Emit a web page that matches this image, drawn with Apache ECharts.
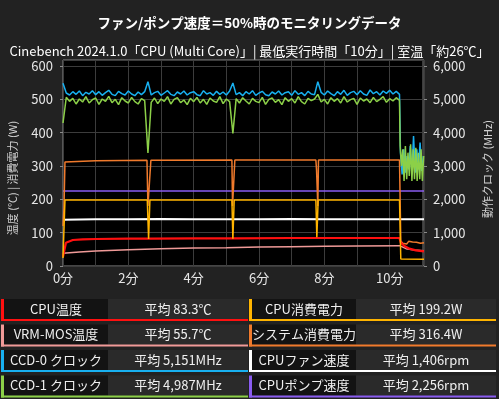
<!DOCTYPE html>
<html lang="ja">
  <head>
    <meta charset="UTF-8" />
    <script src="https://cdn.jsdelivr.net/npm/echarts@6/dist/echarts.min.js"></script>
    <style>
      html, body { margin: 0; padding: 0; background: #222222; }
    </style>
  </head>
  <body>
    <div id="main" style="width: 499px; height: 399px"></div>
    <script>
      var FONT = '"Noto Sans CJK JP", "Noto Sans", sans-serif';

      var colors = ['#ff1010', '#ffb400', '#f09a98', '#f07a2c', '#18b0f0', '#ffffff', '#8cd048', '#8a5cf0'];
      var legendNames = ['CPU温度', 'CPU消費電力', 'VRM-MOS温度', 'システム消費電力', 'CCD-0 クロック', 'CPUファン速度', 'CCD-1 クロック', 'CPUポンプ速度'];
      var legendAverages = ['平均 83.3℃', '平均 199.2W', '平均 55.7℃', '平均 316.4W', '平均 5,151MHz', '平均 1,406rpm', '平均 4,987MHz', '平均 2,256rpm'];

      // [minutes, value]
      var cpuTemp = [[0, 28], [0.05, 32], [0.09, 70], [0.14, 74], [0.3, 78], [0.6, 80], [1, 81], [2, 82], [2.58, 82], [2.62, 79], [2.68, 82],
        [4, 83], [5.18, 83], [5.21, 81], [5.26, 83], [7, 84], [7.75, 84], [7.78, 82], [7.83, 84], [9, 84], [10.3, 84],
        [10.34, 70], [10.45, 60], [10.6, 52], [10.8, 47], [11.05, 44]];
      var cpuPower = [[0, 24], [0.04, 30], [0.06, 198], [2.58, 198], [2.62, 81], [2.66, 198], [5.17, 198], [5.2, 82], [5.24, 198],
        [7.74, 198], [7.77, 86], [7.81, 198], [10.3, 198], [10.34, 21], [11.05, 20]];
      var vrmTemp = [[0, 38], [0.5, 42], [1, 45], [2, 49], [3, 52], [4, 54], [5, 55], [6, 57], [7, 58], [8, 59], [9, 60], [10.3, 61],
        [10.36, 55], [10.5, 52], [10.75, 48], [11.05, 46]];
      var sysPower = [[0, 120], [0.03, 175], [0.06, 312], [1, 316], [2.57, 317], [2.6, 180], [2.66, 180], [2.69, 317], [5.17, 318],
        [5.19, 180], [5.24, 180], [5.26, 318], [7.74, 318], [7.76, 290], [7.8, 180], [7.82, 318], [10.3, 318], [10.34, 75],
        [10.4, 68], [10.46, 73], [10.52, 66], [10.58, 74], [10.64, 69], [10.7, 72], [10.76, 66], [10.82, 71], [10.88, 76],
        [10.94, 68], [11, 73], [11.05, 70]];
      var fanSpeed = [[0, 1390], [1, 1405], [2, 1400], [3, 1410], [4, 1400], [5, 1405], [6, 1400], [7, 1410], [8, 1400],
        [9, 1405], [10, 1400], [11.05, 1400]];
      var pumpSpeed = [[0, 2250], [11.05, 2250]];

      // clock samples every 0.1 min from 0.0 to 10.3, then tail pairs
      var clockStep = 0.1;
      var ccd0Run = [
        5480, 5190, 5130, 5230, 5150, 5250, 5110, 5210, 5160, 5260,
        5140, 5230, 5120, 5200, 5270, 5150, 5110, 5240, 5170, 5130,
        5250, 5160, 5110, 5220, 5140, 5230, 5530, 5130, 5200, 5240,
        5120, 5190, 5260, 5150, 5110, 5220, 5160, 5250, 5130, 5200,
        5230, 5140, 5110, 5260, 5160, 5200, 5120, 5240, 5150, 5220,
        5130, 5250, 5490, 5140, 5200, 5110, 5230, 5160, 5260, 5120,
        5190, 5240, 5140, 5110, 5220, 5160, 5250, 5130, 5200, 5230,
        5120, 5260, 5150, 5200, 5110, 5240, 5160, 5140, 5530, 5210,
        5130, 5250, 5170, 5110, 5230, 5150, 5270, 5120, 5200, 5240,
        5140, 5260, 5160, 5120, 5280, 5170, 5230, 5130, 5250, 5180,
        5270, 5160, 5240, 5150
      ];
      var ccd0Tail = [[10.33, 3400], [10.38, 2750], [10.43, 3500], [10.48, 2800], [10.53, 3300], [10.58, 2900], [10.63, 3600],
        [10.68, 2750], [10.73, 3900], [10.78, 2800], [10.83, 3500], [10.88, 2900], [10.93, 3700], [10.98, 2850], [11.03, 3300]];
      var ccd1Run = [
        4290, 5060, 4940, 5030, 4860, 5010, 4920, 5080, 4890, 4990,
        5040, 4850, 5010, 4940, 5090, 4900, 5000, 4840, 5050, 4950,
        4890, 5060, 4930, 4860, 5020, 4960, 3390, 4910, 5040, 4870,
        5010, 4940, 5080, 4860, 5000, 5050, 4900, 4980, 4840, 5030,
        4930, 5060, 4890, 5000, 4850, 5040, 4950, 4910, 5080, 4870,
        5010, 4930, 3980, 5020, 4890, 5050, 4950, 4860, 5030, 4940,
        4900, 5060, 4850, 5000, 5040, 4910, 4990, 4840, 5050, 4940,
        5020, 4890, 5080, 4930, 4860, 5030, 4960, 5010, 5150, 4920,
        5000, 4860, 5050, 4940, 5020, 4890, 5080, 4920, 4990, 5030,
        4850, 5040, 4950, 5010, 4900, 5060, 4930, 5000, 5080, 4910,
        5020, 4950, 5050, 4970
      ];
      var ccd1Tail = [[10.32, 3600], [10.36, 3000], [10.4, 3500], [10.44, 2550], [10.48, 3600], [10.52, 2600], [10.56, 3400],
        [10.6, 2700], [10.64, 3650], [10.68, 2550], [10.72, 3500], [10.76, 2600], [10.8, 3550], [10.84, 2550], [10.88, 3400],
        [10.92, 2600], [10.96, 3500], [11, 2550], [11.04, 3300]];

      function withTime(run, tail) {
        var out = run.map(function (v, i) { return [+(i * clockStep).toFixed(2), v]; });
        return out.concat(tail);
      }

      var chart = echarts.init(document.getElementById('main'));

      function line(idx, data, yAxisIndex, width, z) {
        return {
          type: 'line',
          name: legendNames[idx],
          data: data,
          yAxisIndex: yAxisIndex,
          showSymbol: false,
          animation: false,
          z: z,
          lineStyle: { color: colors[idx], width: width },
          itemStyle: { color: colors[idx] }
        };
      }

      var graphics = [];

      // axis names, placed by hand
      graphics.push({
        type: 'text', x: 13, y: 178, rotation: Math.PI / 2, silent: true,
        style: { text: '温度 (℃) | 消費電力 (W)', fill: '#d0d0d0', font: '11px ' + FONT, textAlign: 'center', textVerticalAlign: 'middle' }
      });
      graphics.push({
        type: 'text', x: 488, y: 169, rotation: Math.PI / 2, silent: true,
        style: { text: '動作クロック (MHz)', fill: '#d0d0d0', font: '11px ' + FONT, textAlign: 'center', textVerticalAlign: 'middle' }
      });

      // legend table under the plot
      var rowTop = [299, 324.5, 350, 375.5];
      var colX = [1, 249];
      legendNames.forEach(function (name, i) {
        var r = Math.floor(i / 2), c = i % 2;
        var x = colX[c], y = rowTop[r];
        var nameW = 107, valW = 140;
        graphics.push({ type: 'rect', shape: { x: x, y: y, width: nameW, height: 20 }, style: { fill: '#131313' }, silent: true });
        graphics.push({ type: 'rect', shape: { x: x + nameW, y: y, width: valW, height: 20 }, style: { fill: '#2a2a2a' }, silent: true });
        graphics.push({ type: 'rect', shape: { x: x, y: y, width: 3, height: 22 }, style: { fill: colors[i] }, silent: true });
        graphics.push({ type: 'rect', shape: { x: x, y: y + 20, width: nameW + valW, height: 2 }, style: { fill: colors[i] }, silent: true });
        graphics.push({
          type: 'text', x: x + 3 + (nameW - 3) / 2, y: y + 10, silent: true,
          style: { text: name, fill: '#f0f0f0', font: '13px ' + FONT, textAlign: 'center', textVerticalAlign: 'middle' }
        });
        graphics.push({
          type: 'text', x: x + nameW + valW / 2, y: y + 10, silent: true,
          style: { text: legendAverages[i], fill: '#f0f0f0', font: '13px ' + FONT, textAlign: 'center', textVerticalAlign: 'middle' }
        });
      });

      var option = {
        backgroundColor: '#222222',
        textStyle: { fontFamily: FONT },
        title: [
          { text: 'ファン/ポンプ速度＝50%時のモニタリングデータ', left: 'center', top: 11,
            textStyle: { color: '#ffffff', fontSize: 13.5, fontWeight: 'bold', fontFamily: FONT } },
          { text: 'Cinebench 2024.1.0「CPU (Multi Core)」| 最低実行時間「10分」| 室温「約26℃」', left: 'center', top: 40,
            textStyle: { color: '#ffffff', fontSize: 13, fontWeight: 'normal', fontFamily: FONT } }
        ],
        grid: {
          left: 63, right: 75, top: 60, bottom: 133,
          show: true, backgroundColor: '#000000', borderColor: '#8a8a8a', borderWidth: 1
        },
        xAxis: {
          type: 'value', min: 0, max: 11.05, interval: 1,
          axisLine: { show: false },
          axisTick: { show: false },
          splitLine: { show: true, lineStyle: { color: '#3c3c3c', width: 1 } },
          axisLabel: {
            color: '#e6e6e6', fontSize: 13, margin: 6, fontFamily: FONT,
            showMaxLabel: false,
            formatter: function (v) { return v % 2 === 0 ? v + '分' : ''; }
          }
        },
        yAxis: [
          {
            type: 'value', min: 0, max: 618, interval: 100,
            axisLine: { show: false },
            axisTick: { show: true, length: 3, lineStyle: { color: '#8a8a8a' } },
            splitLine: { show: true, lineStyle: { color: '#3c3c3c', width: 1 } },
            axisLabel: { color: '#e6e6e6', fontSize: 13, margin: 10, showMaxLabel: false, fontFamily: FONT }
          },
          {
            type: 'value', min: 0, max: 6180, interval: 1000,
            axisLine: { show: false },
            axisTick: { show: true, length: 3, lineStyle: { color: '#8a8a8a' } },
            splitLine: { show: false },
            axisLabel: {
              color: '#e6e6e6', fontSize: 13, margin: 9, showMaxLabel: false, fontFamily: FONT,
              formatter: function (v) { return v.toLocaleString('en-US'); }
            }
          }
        ],
        series: [
          line(7, pumpSpeed, 1, 1.5, 2),
          line(5, fanSpeed, 1, 2, 2),
          line(2, vrmTemp, 0, 1.5, 3),
          line(0, cpuTemp, 0, 2.2, 4),
          line(3, sysPower, 0, 1.5, 3),
          line(1, cpuPower, 0, 1.5, 4),
          line(4, withTime(ccd0Run, ccd0Tail), 1, 1.5, 5),
          line(6, withTime(ccd1Run, ccd1Tail), 1, 1.5, 6)
        ],
        graphic: graphics
      };

      chart.setOption(option);
    </script>
  </body>
</html>
